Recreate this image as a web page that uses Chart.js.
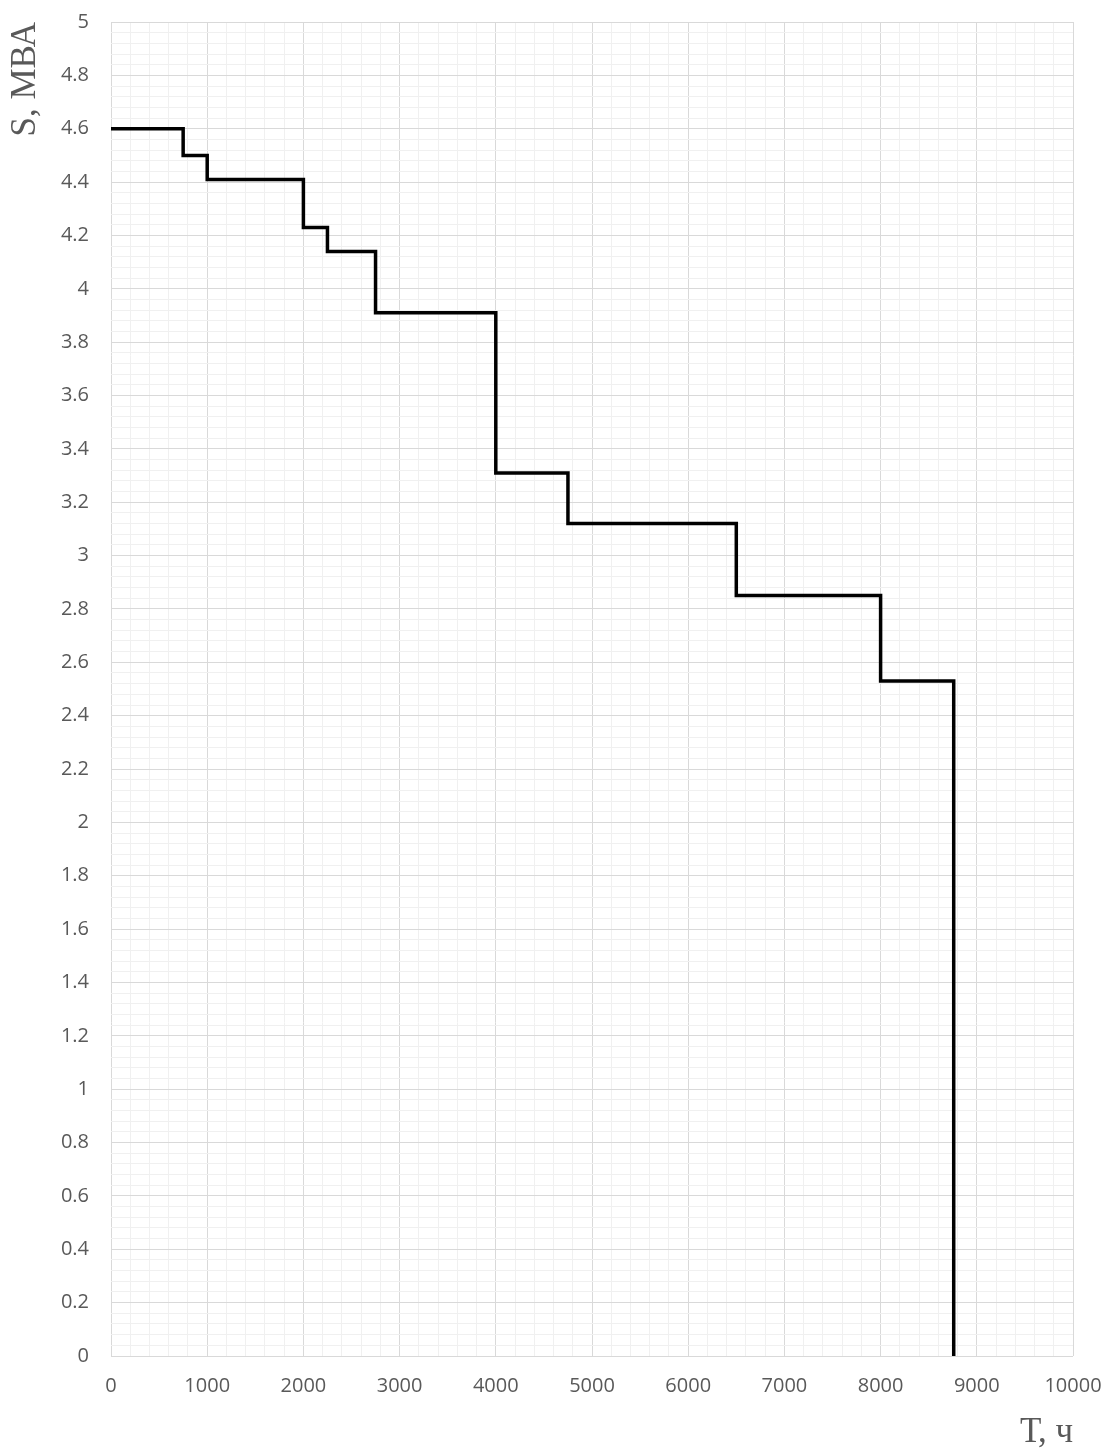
<!DOCTYPE html>
<html>
<head>
<meta charset="utf-8">
<script src="https://cdn.jsdelivr.net/npm/chart.js@4"></script>
<style>
html,body{margin:0;padding:0;background:#fff;}
canvas{display:block;}
</style>
</head>
<body>
<canvas id="c" width="1107" height="1454"></canvas>
<script>
// Duration (hours) at which each load level starts, and the load level S (MVA)
const hours = [0, 750, 1000, 2000, 2250, 2750, 4000, 4750, 6500, 8000, 8760];
const loadMVA = [4.6, 4.5, 4.41, 4.23, 4.14, 3.91, 3.31, 3.12, 2.85, 2.53, 0];
const xTitle = 'Т, ч';
const yTitle = 'S, МВА';

const points = hours.map((h, i) => ({x: h, y: loadMVA[i]}));

const MAJOR = '#d9d9d9';
const MINOR = '#f0f0f0';
const TEXT = '#595959';
const tickFont = {family: '"Open Sans", "Liberation Sans", sans-serif', size: 20};
const titleFont = {family: '"Liberation Serif", "DejaVu Serif", serif', size: 35, lineHeight: 1.2};

new Chart(document.getElementById('c'), {
  type: 'scatter',
  data: {
    datasets: [{
      data: points,
      showLine: true,
      stepped: true,
      borderColor: '#000000',
      borderWidth: 3.5,
      pointRadius: 0,
      fill: false
    }]
  },
  options: {
    responsive: false,
    animation: false,
    layout: {padding: {left: 0, top: 22, right: 34, bottom: 0}},
    plugins: {legend: {display: false}, tooltip: {enabled: false}},
    scales: {
      x: {
        type: 'linear',
        min: 0, max: 10000,
        border: {display: false},
        grid: {
          drawTicks: false,
          color: ctx => (Math.round(ctx.tick.value) % 1000 === 0 ? MAJOR : MINOR),
          lineWidth: 1
        },
        ticks: {
          stepSize: 200,
          autoSkip: false,
          maxRotation: 0,
          padding: 18,
          color: TEXT,
          font: tickFont,
          callback: v => (Math.round(v) % 1000 === 0 ? String(Math.round(v)) : '')
        },
        title: {display: true, text: xTitle, align: 'end', color: TEXT, font: titleFont, padding: {top: 0, bottom: 0}},
        afterFit: s => { s.height = 98; s.paddingLeft = 0; s.paddingRight = 0; }
      },
      y: {
        type: 'linear',
        min: 0, max: 5,
        border: {display: false},
        grid: {
          drawTicks: false,
          color: ctx => (Math.round(ctx.tick.value * 100) % 20 === 0 ? MAJOR : MINOR),
          lineWidth: 1
        },
        ticks: {
          stepSize: 0.04,
          autoSkip: false,
          padding: 22,
          color: TEXT,
          font: tickFont,
          callback: v => {
            const k = Math.round(v * 100);
            return k % 20 === 0 ? String(k / 100) : '';
          }
        },
        title: {display: true, text: yTitle, align: 'end', color: TEXT, font: titleFont, padding: {top: 5, bottom: 0}},
        afterFit: s => { s.width = 111; s.paddingTop = 0; s.paddingBottom = 0; }
      }
    }
  }
});
</script>
</body>
</html>
